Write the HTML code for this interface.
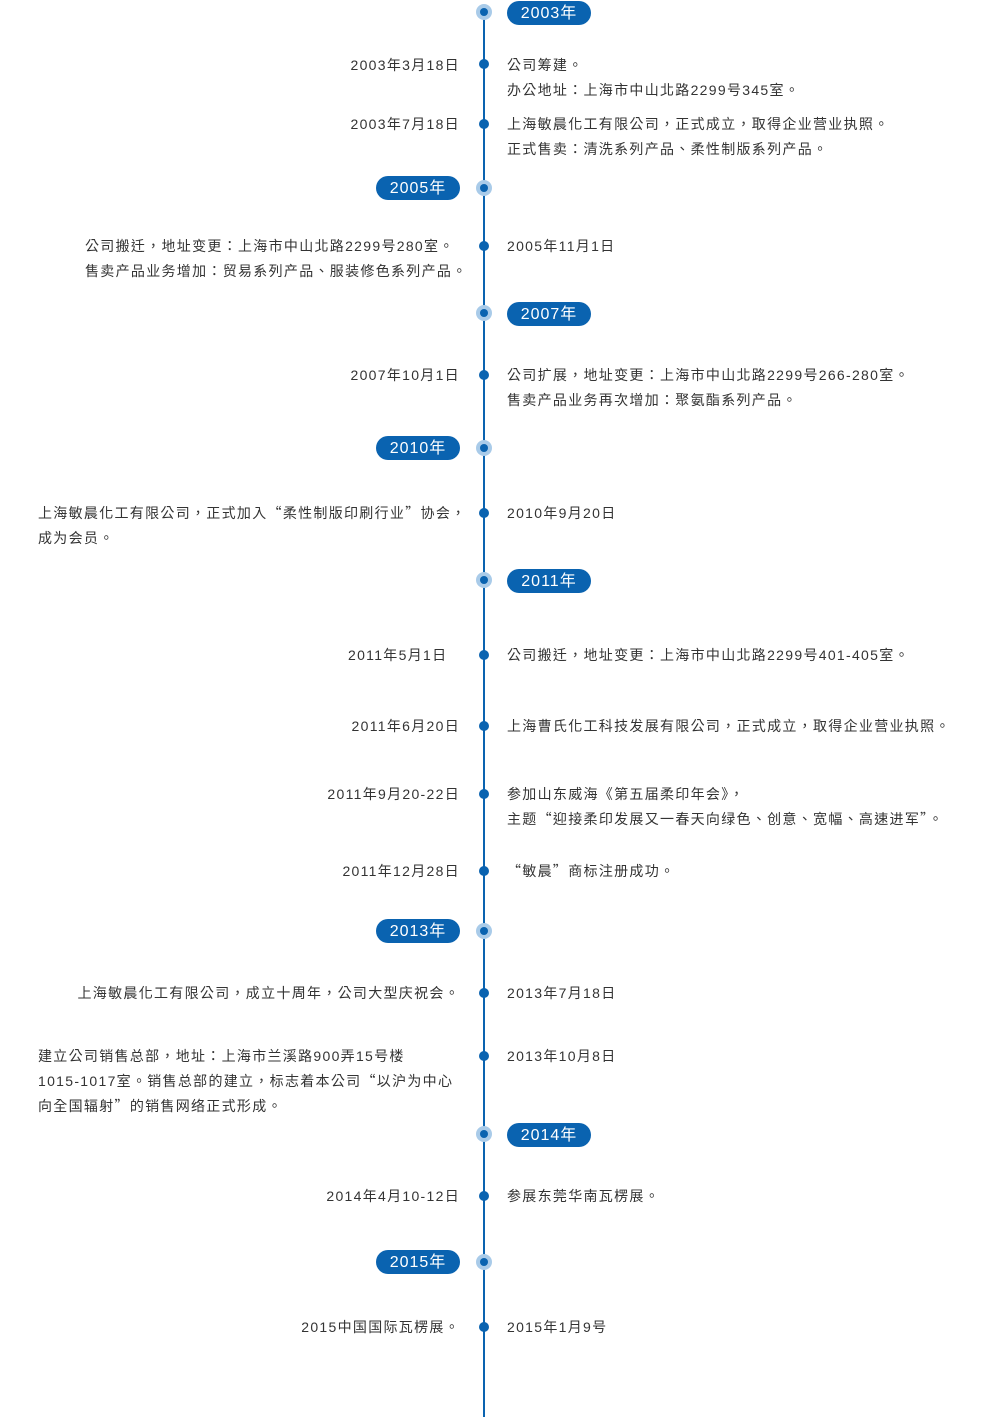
<!DOCTYPE html>
<html><head><meta charset="utf-8"><style>
body{margin:0;width:1000px;height:1417px;background:#fff;position:relative;overflow:hidden;font-family:"Liberation Sans","Noto Sans CJK TC",sans-serif;}
.line{position:absolute;left:483px;top:10px;width:2px;height:1407px;background:#0a63b0;}
.yd{position:absolute;width:16px;height:16px;border-radius:50%;background:#a9cbe9;left:476px;}
.yd::after{content:"";position:absolute;left:4px;top:4px;width:8px;height:8px;border-radius:50%;background:#0a63b0;}
.d{position:absolute;width:10px;height:10px;border-radius:50%;background:#0a63b0;left:479px;}
.p{position:absolute;width:84px;height:24px;border-radius:12px;background:#0a63b0;color:#fff;font-size:16px;line-height:26px;text-align:center;letter-spacing:1px;}
.t{position:absolute;font-size:14px;line-height:25px;color:#333;letter-spacing:1.3px;white-space:nowrap;}
.q{font-family:"Noto Sans CJK TC",sans-serif;}
.r{right:540px;text-align:right;}
.l{left:507px;}
</style></head><body>
<div class="line"></div>
<div class="yd" style="top:4px"></div><div class="p" style="left:507px;top:1px">2003年</div>
<div class="yd" style="top:180px"></div><div class="p" style="left:376px;top:176px">2005年</div>
<div class="yd" style="top:305px"></div><div class="p" style="left:507px;top:302px">2007年</div>
<div class="yd" style="top:440px"></div><div class="p" style="left:376px;top:436px">2010年</div>
<div class="yd" style="top:572px"></div><div class="p" style="left:507px;top:569px">2011年</div>
<div class="yd" style="top:923px"></div><div class="p" style="left:376px;top:919px">2013年</div>
<div class="yd" style="top:1126px"></div><div class="p" style="left:507px;top:1123px">2014年</div>
<div class="yd" style="top:1254px"></div><div class="p" style="left:376px;top:1250px">2015年</div>

<div class="d" style="top:59px"></div>
<div class="t r" style="top:53px">2003年3月18日</div>
<div class="t l" style="top:53px">公司筹建。<br>办公地址：上海市中山北路2299号345室。</div>

<div class="d" style="top:119px"></div>
<div class="t r" style="top:112px">2003年7月18日</div>
<div class="t l" style="top:112px">上海敏晨化工有限公司，正式成立，取得企业营业执照。<br>正式售卖：清洗系列产品、柔性制版系列产品。</div>

<div class="d" style="top:241px"></div>
<div class="t" style="left:85px;top:234px">公司搬迁，地址变更：上海市中山北路2299号280室。<br>售卖产品业务增加：贸易系列产品、服装修色系列产品。</div>
<div class="t l" style="top:234px">2005年11月1日</div>

<div class="d" style="top:370px"></div>
<div class="t r" style="top:363px">2007年10月1日</div>
<div class="t l" style="top:363px">公司扩展，地址变更：上海市中山北路2299号266-280室。<br>售卖产品业务再次增加：聚氨酯系列产品。</div>

<div class="d" style="top:508px"></div>
<div class="t" style="left:38px;top:501px">上海敏晨化工有限公司，正式加入<span class="q">“</span>柔性制版印刷行业<span class="q">”</span>协会，<br>成为会员。</div>
<div class="t l" style="top:501px">2010年9月20日</div>

<div class="d" style="top:650px"></div>
<div class="t" style="left:348px;top:643px">2011年5月1日</div>
<div class="t l" style="top:643px">公司搬迁，地址变更：上海市中山北路2299号401-405室。</div>

<div class="d" style="top:721px"></div>
<div class="t r" style="top:714px">2011年6月20日</div>
<div class="t l" style="top:714px">上海曹氏化工科技发展有限公司，正式成立，取得企业营业执照。</div>

<div class="d" style="top:789px"></div>
<div class="t r" style="top:782px">2011年9月20-22日</div>
<div class="t l" style="top:782px">参加山东威海《第五届柔印年会》，<br>主题<span class="q">“</span>迎接柔印发展又一春天向绿色、创意、宽幅、高速进军<span class="q">”</span>。</div>

<div class="d" style="top:866px"></div>
<div class="t r" style="top:859px">2011年12月28日</div>
<div class="t l" style="top:859px"><span class="q">“</span>敏晨<span class="q">”</span>商标注册成功。</div>

<div class="d" style="top:988px"></div>
<div class="t r" style="top:981px">上海敏晨化工有限公司，成立十周年，公司大型庆祝会。</div>
<div class="t l" style="top:981px">2013年7月18日</div>

<div class="d" style="top:1051px"></div>
<div class="t" style="left:38px;top:1044px">建立公司销售总部，地址：上海市兰溪路900弄15号楼<br>1015-1017室。销售总部的建立，标志着本公司<span class="q">“</span>以沪为中心<br>向全国辐射<span class="q">”</span>的销售网络正式形成。</div>
<div class="t l" style="top:1044px">2013年10月8日</div>

<div class="d" style="top:1191px"></div>
<div class="t r" style="top:1184px">2014年4月10-12日</div>
<div class="t l" style="top:1184px">参展东莞华南瓦楞展。</div>

<div class="d" style="top:1322px"></div>
<div class="t r" style="top:1315px">2015中国国际瓦楞展。</div>
<div class="t l" style="top:1315px">2015年1月9号</div>
</body></html>
